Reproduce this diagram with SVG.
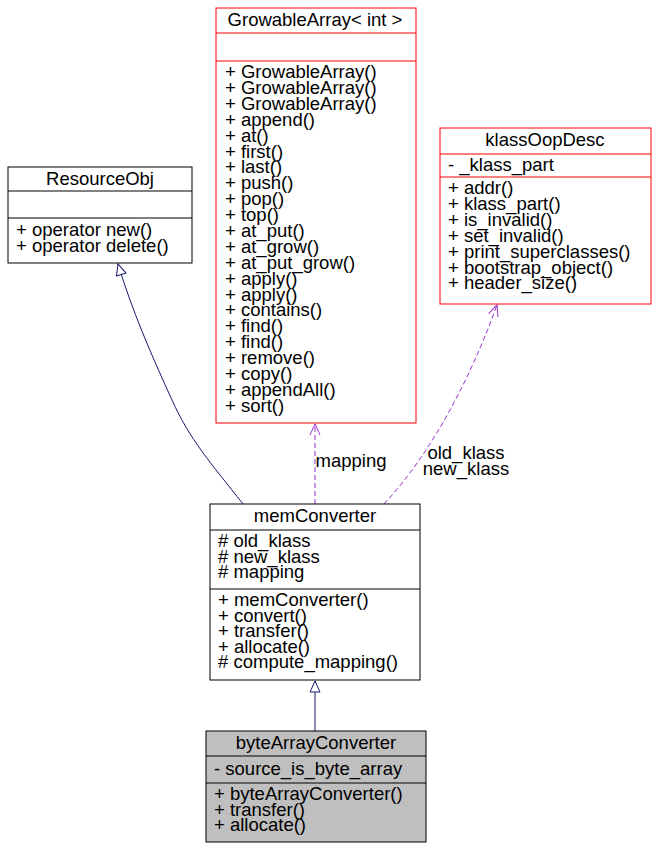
<svg xmlns="http://www.w3.org/2000/svg" width="658" height="850" viewBox="0 0 658 850">
<style>
text{font-family:"Liberation Sans",Arial,sans-serif;font-size:18.5px;fill:#000}
.c{text-anchor:middle}
.b{fill:#fff;stroke:#000;stroke-width:1}
.r{fill:#fff;stroke:#ff0000;stroke-width:1}
.ln{stroke:#000}
.lr{stroke:#ff0000}
.inh{fill:none;stroke:#191970;stroke-width:1}
.use{fill:none;stroke:#9a32cd;stroke-width:1;stroke-dasharray:5,3}
</style>
<defs>
<marker id="tri" markerWidth="14" markerHeight="14" refX="12" refY="6" orient="auto" markerUnits="userSpaceOnUse">
<path d="M1,1 L12,6 L1,11 Z" fill="#fff" stroke="#191970"/>
</marker>
<marker id="open" markerWidth="14" markerHeight="14" refX="12" refY="6" orient="auto" markerUnits="userSpaceOnUse">
<path d="M1,1 L12,6 L1,11" fill="none" stroke="#9a32cd"/>
</marker>
</defs>
<g id="connectors">
<path class="inh" d="M243,504 C210,462 190,440 172,400 C150,352 132,310 118,264" marker-end="url(#tri)"/>
<path class="inh" d="M315,731 L315,681" marker-end="url(#tri)"/>
<path class="use" d="M315,504 L315,424" marker-end="url(#open)"/>
<path class="use" d="M384,504 C430,455 470,380 497,305" marker-end="url(#open)"/>
<text x="351" y="467" class="c">mapping</text>
<text x="466" y="459" class="c">old_klass</text>
<text x="466" y="475" class="c">new_klass</text>
</g>
<g id="GrowableArray">
<rect class="r" x="216" y="8" width="200" height="415"/>
<line class="lr" x1="216" y1="33" x2="416" y2="33"/>
<line class="lr" x1="216" y1="61" x2="416" y2="61"/>
<text x="315" y="26" class="c">GrowableArray&lt; int &gt;</text>
<text>
<tspan x="225" y="78">+ GrowableArray()</tspan><tspan x="225" dy="15.9">+ GrowableArray()</tspan><tspan x="225" dy="15.9">+ GrowableArray()</tspan><tspan x="225" dy="15.9">+ append()</tspan><tspan x="225" dy="15.9">+ at()</tspan><tspan x="225" dy="15.9">+ first()</tspan><tspan x="225" dy="15.9">+ last()</tspan><tspan x="225" dy="15.9">+ push()</tspan><tspan x="225" dy="15.9">+ pop()</tspan><tspan x="225" dy="15.9">+ top()</tspan><tspan x="225" dy="15.9">+ at_put()</tspan><tspan x="225" dy="15.9">+ at_grow()</tspan><tspan x="225" dy="15.9">+ at_put_grow()</tspan><tspan x="225" dy="15.9">+ apply()</tspan><tspan x="225" dy="15.9">+ apply()</tspan><tspan x="225" dy="15.9">+ contains()</tspan><tspan x="225" dy="15.9">+ find()</tspan><tspan x="225" dy="15.9">+ find()</tspan><tspan x="225" dy="15.9">+ remove()</tspan><tspan x="225" dy="15.9">+ copy()</tspan><tspan x="225" dy="15.9">+ appendAll()</tspan><tspan x="225" dy="15.9">+ sort()</tspan>
</text>
</g>
<g id="klassOopDesc">
<rect class="r" x="440" y="128" width="211" height="176"/>
<line class="lr" x1="440" y1="154" x2="651" y2="154"/>
<line class="lr" x1="440" y1="177" x2="651" y2="177"/>
<text x="545" y="146" class="c">klassOopDesc</text>
<text x="448" y="171">- _klass_part</text>
<text>
<tspan x="448" y="194">+ addr()</tspan><tspan x="448" dy="15.9">+ klass_part()</tspan><tspan x="448" dy="15.9">+ is_invalid()</tspan><tspan x="448" dy="15.9">+ set_invalid()</tspan><tspan x="448" dy="15.9">+ print_superclasses()</tspan><tspan x="448" dy="15.9">+ bootstrap_object()</tspan><tspan x="448" dy="15.9">+ header_size()</tspan>
</text>
</g>
<g id="ResourceObj">
<rect class="b" x="8" y="167" width="184" height="96"/>
<line class="ln" x1="8" y1="191" x2="192" y2="191"/>
<line class="ln" x1="8" y1="218" x2="192" y2="218"/>
<text x="100" y="185" class="c">ResourceObj</text>
<text x="16" y="236">+ operator new()</text>
<text x="16" y="252">+ operator delete()</text>
</g>
<g id="memConverter">
<rect class="b" x="210" y="504" width="210" height="176"/>
<line class="ln" x1="210" y1="530" x2="420" y2="530"/>
<line class="ln" x1="210" y1="589" x2="420" y2="589"/>
<text x="315" y="522" class="c">memConverter</text>
<text><tspan x="218" y="547"># old_klass</tspan><tspan x="218" dy="15.5"># new_klass</tspan><tspan x="218" dy="15.5"># mapping</tspan></text>
<text><tspan x="218" y="606">+ memConverter()</tspan><tspan x="218" dy="15.5">+ convert()</tspan><tspan x="218" dy="15.5">+ transfer()</tspan><tspan x="218" dy="15.5">+ allocate()</tspan><tspan x="218" dy="15.5"># compute_mapping()</tspan></text>
</g>
<g id="byteArrayConverter">
<rect x="206" y="731" width="220" height="111" fill="#bfbfbf" stroke="#000"/>
<line class="ln" x1="206" y1="756" x2="426" y2="756"/>
<line class="ln" x1="206" y1="783" x2="426" y2="783"/>
<text x="316" y="749" class="c">byteArrayConverter</text>
<text x="214" y="775">- source_is_byte_array</text>
<text><tspan x="214" y="800">+ byteArrayConverter()</tspan><tspan x="214" dy="15.5">+ transfer()</tspan><tspan x="214" dy="15.5">+ allocate()</tspan></text>
</g>
</svg>
